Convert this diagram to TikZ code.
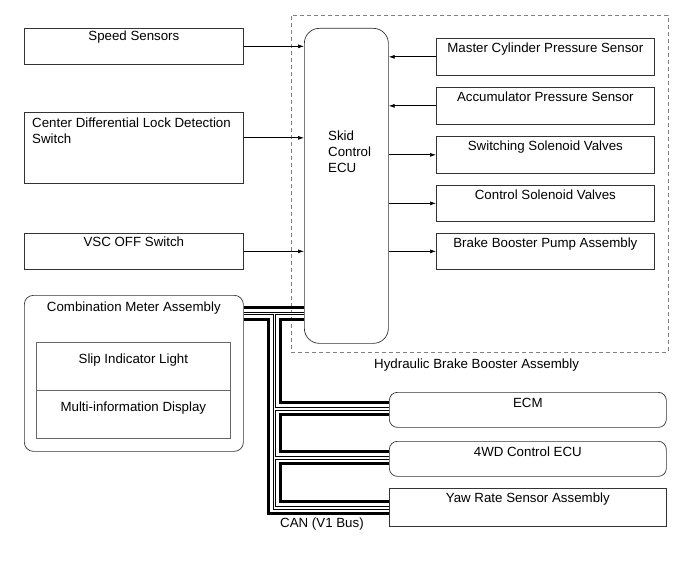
\documentclass[tikz,border=0pt]{standalone}
\usepackage{fontspec}
\setmainfont{Liberation Sans}
\usetikzlibrary{arrows.meta}

\begin{document}
\begin{tikzpicture}[x=1pt,y=-1pt,>={Latex[length=6pt,width=4pt]},
    font=\fontsize{13.3}{16}\selectfont,
    unit/.style={draw=black!80,line width=0.7pt,anchor=north west,inner sep=0pt,minimum width=219pt},
    panel/.style={unit,minimum width=218pt},
    bus unit/.style={unit,minimum width=277pt,minimum height=35pt,rounded corners=8pt},
    caption/.style={anchor=base,inner sep=0pt},
    signal/.style={line width=0.7pt},
    can black/.style={line width=3pt},
    can white/.style={double=white,double distance=1.8pt,line width=0.8pt}]

  \useasboundingbox (0,0) rectangle (691,564);

  \node[unit,draw=gray,dash pattern=on 4pt off 3pt,minimum width=377pt,minimum height=337pt] (hbba) at (291,15) {};
  \node[anchor=base west,inner sep=0pt] (hbbatext) at (374,368) {Hydraulic Brake Booster Assembly};

  \node[unit,minimum height=36pt] (speed) at (24,28) {};
  \node[unit,minimum height=71pt] (cdl) at (24,112) {};
  \node[unit,minimum height=36pt] (vsc) at (24,233) {};
  \node[unit,minimum height=156pt,rounded corners=9pt] (meter) at (24,295) {};
  \node[unit,draw=black!60,minimum width=194pt,minimum height=48pt] (slip) at (36,342) {};
  \node[unit,draw=black!60,minimum width=194pt,minimum height=48pt] (mid) at (36,390) {};

  \node[unit,minimum width=84pt,minimum height=315pt,rounded corners=15pt] (ecu) at (304,28) {};

  \node[panel,minimum height=37pt] (master) at (436,38) {};
  \node[panel,minimum height=37pt] (accum) at (436,87) {};
  \node[panel,minimum height=37pt] (switch) at (436,136) {};
  \node[panel,minimum height=36pt] (ctrl) at (436,185) {};
  \node[panel,minimum height=36pt] (pump) at (436,233) {};

  \node[bus unit] (ecm) at (389,392) {};
  \node[bus unit] (wd) at (389,441) {};
  \node[bus unit,rounded corners=0pt,minimum height=38pt] (yaw) at (389,488) {};

  \node[caption] (speedtext) at ([yshift=-12.7pt]speed.north) {Speed Sensors};
  \node[anchor=north west,inner sep=0pt,align=left] (cdltext) at (32,117.5) {Center Differential Lock Detection\\Switch};
  \node[caption] (vsctext) at ([yshift=-13.7pt]vsc.north) {VSC OFF Switch};
  \node[caption] (metertext) at ([yshift=-16.7pt]meter.north) {Combination Meter Assembly};
  \node[caption] (sliptext) at ([yshift=-21pt]slip.north) {Slip Indicator Light};
  \node[caption] (midtext) at ([yshift=-21pt]mid.north) {Multi-information Display};
  \node[anchor=north west,inner sep=0pt,align=left] (ecutext) at (328,130.5) {Skid\\Control\\ECU};
  \node[caption] (mastertext) at ([yshift=-15pt]master.north) {Master Cylinder Pressure Sensor};
  \node[caption] (accumtext) at ([yshift=-15pt]accum.north) {Accumulator Pressure Sensor};
  \node[caption] (switchtext) at ([yshift=-15pt]switch.north) {Switching Solenoid Valves};
  \node[caption] (ctrltext) at ([yshift=-15pt]ctrl.north) {Control Solenoid Valves};
  \node[caption] (pumptext) at ([yshift=-15pt]pump.north) {Brake Booster Pump Assembly};
  \node[caption] (ecmtext) at ([yshift=-15.3pt]ecm.north) {ECM};
  \node[caption] (wdtext) at ([yshift=-15pt]wd.north) {4WD Control ECU};
  \node[caption] (yawtext) at ([yshift=-14.3pt]yaw.north) {Yaw Rate Sensor Assembly};
  \node[anchor=base west,inner sep=0pt] (cantext) at (280,527.5) {CAN (V1 Bus)};

  \path[->,signal]
    (speed) edge (speed -| ecu.west)
    ([yshift=10pt]cdl.east) edge ([yshift=10pt]cdl.east -| ecu.west)
    (vsc) edge (vsc -| ecu.west)
    (master) edge (master -| ecu.east)
    (accum) edge (accum -| ecu.east)
    (ecu.east |- switch) edge (switch)
    (ecu.east |- ctrl) edge (ctrl)
    (ecu.east |- pump) edge (pump);

  % CAN bus rails and taps
  \coordinate (raila) at (268.5,0);
  \coordinate (railw) at (274.5,0);
  \coordinate (railb) at (280.5,0);
  \coordinate (topb) at (0,307.5);
  \coordinate (topw) at (0,313.5);
  \coordinate (topl) at (0,319.5);
  \foreach \n/\s in {ecm/1,wd/1,yaw/-0.5} {
    \coordinate (\n w) at ([yshift=\s pt]\n.west);
    \coordinate (\n hi) at ([yshift=\s pt+6pt]\n.west);
    \coordinate (\n lo) at ([yshift=\s pt-6pt]\n.west);
  }

  \draw[can black] (meter.east |- topb) -- (ecu.west |- topb);
  \draw[can black] (meter.east |- topl) -- (raila |- topl) -- (raila |- yawlo) -- (yawlo);
  \draw[can black] (ecu.west |- topl) -- (railb |- topl) -- (railb |- ecmhi) -- (ecmhi);
  \draw[can black] (ecmlo) -- (railb |- ecmlo) -- (railb |- wdhi) -- (wdhi);
  \draw[can black] (wdlo) -- (railb |- wdlo) -- (railb |- yawhi) -- (yawhi);
  \draw[can white] (meter.east |- topw) -- (ecu.west |- topw)
    (railw |- topw) -- (railw |- yaww) -- (yaww)
    (railw |- ecmw) -- (ecmw)
    (railw |- wdw) -- (wdw);
\end{tikzpicture}
\end{document}
